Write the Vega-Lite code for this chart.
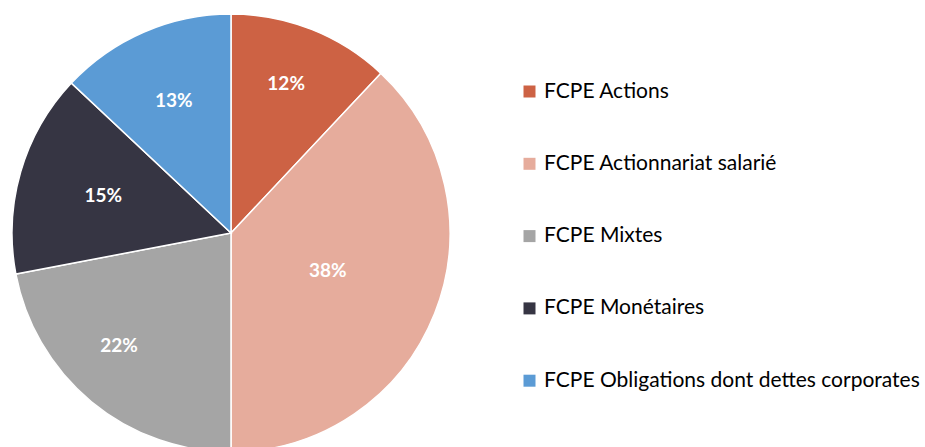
{
  "$schema": "https://vega.github.io/schema/vega-lite/v6.json",
  "width": 925,
  "height": 447,
  "autosize": "none",
  "padding": 0,
  "background": "white",
  "config": {"view": {"stroke": null}, "font": "Lato"},
  "data": {"values": [
    {"cat": "FCPE Actions", "val": 12, "ord": 1, "lab": "12%"},
    {"cat": "FCPE Actionnariat salarié", "val": 38, "ord": 2, "lab": "38%"},
    {"cat": "FCPE Mixtes", "val": 22, "ord": 3, "lab": "22%"},
    {"cat": "FCPE Monétaires", "val": 15, "ord": 4, "lab": "15%"},
    {"cat": "FCPE Obligations dont dettes corporates", "val": 13, "ord": 5, "lab": "13%"}
  ]},
  "encoding": {
    "theta": {"field": "val", "type": "quantitative", "stack": true},
    "order": {"field": "ord", "type": "quantitative"}
  },
  "layer": [
    {
      "mark": {"type": "arc", "x": 231, "y": 233, "outerRadius": 219, "stroke": "white", "strokeWidth": 1.5},
      "encoding": {
        "color": {
          "field": "cat", "type": "nominal",
          "scale": {
            "domain": ["FCPE Actions", "FCPE Actionnariat salarié", "FCPE Mixtes", "FCPE Monétaires", "FCPE Obligations dont dettes corporates"],
            "range": ["#CD6244", "#E6AC9C", "#A5A5A5", "#363543", "#5B9BD5"]
          },
          "legend": {
            "title": null, "orient": "none", "legendX": 519, "legendY": 81,
            "symbolType": "square", "symbolSize": 144, "symbolStrokeWidth": 0,
            "labelFontSize": 21, "labelFont": "Lato", "labelColor": "#000000",
            "labelOffset": 4, "rowPadding": 50.3, "labelLimit": 500
          }
        }
      }
    },
    {
      "mark": {"type": "text", "x": 231, "y": 233, "radius": 158, "dx": -3, "dy": -2, "fill": "white", "fontWeight": "bold", "fontSize": 19, "font": "Lato"},
      "encoding": {"text": {"condition": {"test": "datum.ord == 1", "field": "lab"}, "value": ""}}
    },
    {
      "mark": {"type": "text", "x": 231, "y": 233, "radius": 160, "dx": -10, "dy": -10, "fill": "white", "fontWeight": "bold", "fontSize": 19, "font": "Lato"},
      "encoding": {"text": {"condition": {"test": "datum.ord == 3", "field": "lab"}, "value": ""}}
    },
    {
      "mark": {"type": "text", "x": 231, "y": 233, "radius": 104, "fill": "white", "fontWeight": "bold", "fontSize": 19, "font": "Lato"},
      "encoding": {"text": {"condition": {"test": "datum.ord == 2", "field": "lab"}, "value": ""}}
    },
    {
      "mark": {"type": "text", "x": 231, "y": 233, "radius": 133, "fill": "white", "fontWeight": "bold", "fontSize": 19, "font": "Lato"},
      "encoding": {"text": {"condition": {"test": "datum.ord == 4", "field": "lab"}, "value": ""}}
    },
    {
      "mark": {"type": "text", "x": 231, "y": 233, "radius": 144, "fill": "white", "fontWeight": "bold", "fontSize": 19, "font": "Lato"},
      "encoding": {"text": {"condition": {"test": "datum.ord == 5", "field": "lab"}, "value": ""}}
    }
  ]
}
